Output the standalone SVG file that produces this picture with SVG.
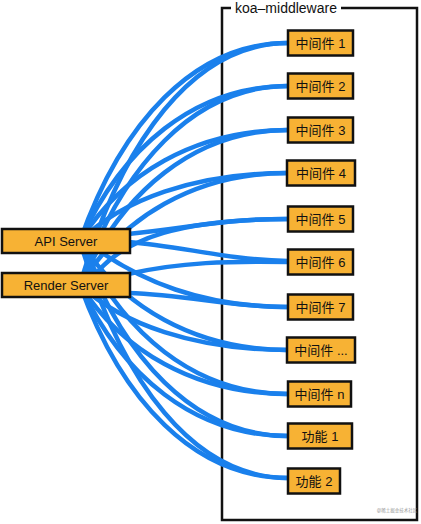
<svg xmlns="http://www.w3.org/2000/svg" width="421" height="524" viewBox="0 0 421 524">
<style>
.box{fill:#f7b234;stroke:#111;stroke-width:2.5}
.lbl{font-family:"Liberation Sans","Noto Sans CJK SC",sans-serif;font-size:13px;fill:#111;text-anchor:middle}
.link{fill:none;stroke:#1a80ec;stroke-width:4.5;stroke-linecap:round}
.frame{fill:none;stroke:#111;stroke-width:2.5}
</style>
<rect width="421" height="524" fill="#fff"/>
<g id="frame">
<rect class="frame" x="222" y="8" width="195" height="512"/>
<rect x="231" y="2" width="110" height="12" fill="#fff"/>
<text x="286" y="13" font-family="Liberation Sans, sans-serif" font-size="14" fill="#111" text-anchor="middle">koa–middleware</text>
<text x="397" y="512" font-family="Liberation Sans, Noto Sans CJK SC, sans-serif" font-size="4.5" fill="#999" text-anchor="middle">@稀土掘金技术社区</text>
</g>
<g id="connectors">
<path class="link" d="M80 241 C121.6 122.2 194.4 43 288 43"/>
<path class="link" d="M80 241 C121.6 148 194.4 86 288 86"/>
<path class="link" d="M80 241 C121.6 174.4 194.4 130 288 130"/>
<path class="link" d="M80 241 C121.6 200.2 194.4 173 288 173"/>
<path class="link" d="M128 234 C190 228 220 219 288 219"/>
<path class="link" d="M128 242 C180 246 230 260 288 261"/>
<path class="link" d="M95 248 C140 280 200 307 288 307"/>
<path class="link" d="M80 241 C121.6 306.4 194.4 350 288 350"/>
<path class="link" d="M80 241 C121.6 332.8 194.4 394 288 394"/>
<path class="link" d="M80 241 C121.6 358 194.4 436 288 436"/>
<path class="link" d="M80 241 C121.6 383.2 194.4 478 288 478"/>
<path class="link" d="M80 285 C121.6 139.8 194.4 43 288 43"/>
<path class="link" d="M80 285 C121.6 165.6 194.4 86 288 86"/>
<path class="link" d="M80 285 C121.6 192 194.4 130 288 130"/>
<path class="link" d="M80 285 C121.6 217.8 194.4 173 288 173"/>
<path class="link" d="M90 282 C120 235 190 219 288 219"/>
<path class="link" d="M128 274 C180 262 230 261 288 262"/>
<path class="link" d="M128 293 C190 295 230 307 288 307"/>
<path class="link" d="M80 285 C121.6 324 194.4 350 288 350"/>
<path class="link" d="M80 285 C121.6 350.4 194.4 394 288 394"/>
<path class="link" d="M80 285 C121.6 375.6 194.4 436 288 436"/>
<path class="link" d="M80 285 C121.6 400.8 194.4 478 288 478"/>
</g>
<g id="api-server"><rect class="box" x="2" y="229" width="128" height="24"/><text class="lbl" x="66" y="245.5">API Server</text></g>
<g id="render-server"><rect class="box" x="2" y="273" width="128" height="24"/><text class="lbl" x="66" y="289.5">Render Server</text></g>
<g id="m1"><rect class="box" x="288" y="30.5" width="65" height="25"/><text class="lbl" x="320.5" y="47.5">中间件 1</text></g>
<g id="m2"><rect class="box" x="288" y="73.5" width="65" height="25"/><text class="lbl" x="320.5" y="90.5">中间件 2</text></g>
<g id="m3"><rect class="box" x="288" y="117.5" width="65" height="25"/><text class="lbl" x="320.5" y="134.5">中间件 3</text></g>
<g id="m4"><rect class="box" x="287" y="160.5" width="68" height="25"/><text class="lbl" x="321" y="177.5">中间件 4</text></g>
<g id="m5"><rect class="box" x="288" y="206.5" width="65" height="25"/><text class="lbl" x="320.5" y="223.5">中间件 5</text></g>
<g id="m6"><rect class="box" x="288" y="249.5" width="65" height="25"/><text class="lbl" x="320.5" y="266.5">中间件 6</text></g>
<g id="m7"><rect class="box" x="288" y="294.5" width="65" height="25"/><text class="lbl" x="320.5" y="311.5">中间件 7</text></g>
<g id="m-more"><rect class="box" x="287" y="337.5" width="68" height="25"/><text class="lbl" x="321" y="354.5">中间件 ...</text></g>
<g id="mn"><rect class="box" x="288" y="381.5" width="63" height="25"/><text class="lbl" x="319.5" y="398.5">中间件 n</text></g>
<g id="f1"><rect class="box" x="288" y="423.5" width="64" height="25"/><text class="lbl" x="320" y="440.5">功能 1</text></g>
<g id="f2"><rect class="box" x="288" y="468.5" width="52" height="25"/><text class="lbl" x="314" y="485.5">功能 2</text></g>
</svg>
